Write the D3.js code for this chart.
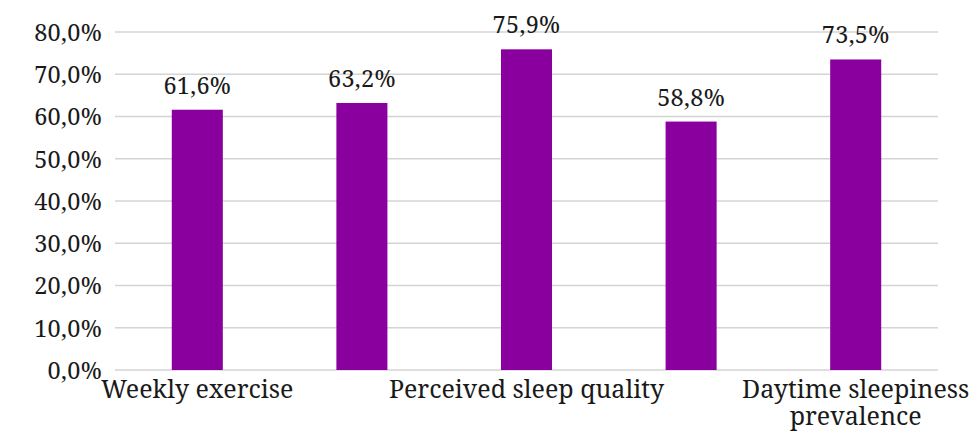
<!DOCTYPE html>
<html>
<head>
<meta charset="utf-8">
<script src="https://cdn.jsdelivr.net/npm/d3@7"></script>
<style>
  html, body { margin: 0; padding: 0; background: #fff; }
  svg { display: block; }
</style>
</head>
<body>
<script>
// chart data
const categories = ['Weekly exercise', '', 'Perceived sleep quality', '', 'Daytime sleepiness\nprevalence']
const values = [61.6, 63.2, 75.9, 58.8, 73.5]
const yTicks = [0, 10, 20, 30, 40, 50, 60, 70, 80]

const width = 976
const height = 435
const margin = { top: 32, right: 38, bottom: 65, left: 115 }
const fontFamily = "'Noto Serif', 'Liberation Serif', serif"
const textColor = '#1a1a1a'

const locale = d3.formatLocale({ decimal: ',', thousands: '.', grouping: [3], currency: ['', ''] })
const fmt = locale.format('.1f')
const pct = d => fmt(d) + '%'

const svg = d3.select('body').append('svg')
  .attr('width', width)
  .attr('height', height)

const x = d3.scaleBand()
  .domain(d3.range(values.length))
  .range([margin.left, width - margin.right])
  .paddingInner(0.69)
  .paddingOuter(0.345)

const y = d3.scaleLinear()
  .domain([0, 80])
  .range([height - margin.bottom, margin.top])

// gridlines
svg.append('g')
  .selectAll('line')
  .data(yTicks)
  .join('line')
  .attr('x1', margin.left)
  .attr('x2', width - margin.right)
  .attr('y1', d => y(d))
  .attr('y2', d => y(d))
  .attr('stroke', '#d4d4d4')
  .attr('stroke-width', 1.5)

// y axis labels
const yAxis = svg.append('g')
  .attr('transform', `translate(${margin.left},0)`)
  .call(d3.axisLeft(y).tickValues(yTicks).tickFormat(pct).tickSize(0).tickPadding(13))
yAxis.select('.domain').remove()
yAxis.selectAll('text')
  .attr('dy', '0.36em')
  .style('font-family', fontFamily)
  .style('font-size', '23.5px')
  .style('letter-spacing', '0.3px')
  .attr('fill', textColor)

// bars
svg.append('g')
  .selectAll('rect')
  .data(values)
  .join('rect')
  .attr('x', (d, i) => x(i))
  .attr('width', x.bandwidth())
  .attr('y', d => y(d))
  .attr('height', d => y(0) - y(d))
  .attr('fill', '#8a009e')

// value labels
svg.append('g')
  .selectAll('text')
  .data(values)
  .join('text')
  .attr('x', (d, i) => x(i) + x.bandwidth() / 2)
  .attr('y', d => y(d) - 16)
  .attr('text-anchor', 'middle')
  .attr('fill', textColor)
  .style('font-family', fontFamily)
  .style('font-size', '23.5px')
  .style('letter-spacing', '0.3px')
  .text(pct)

// category labels
const cat = svg.append('g')
  .selectAll('text')
  .data(categories)
  .join('text')
  .attr('x', (d, i) => x(i) + x.bandwidth() / 2)
  .attr('y', y(0) + 28)
  .attr('text-anchor', 'middle')
  .attr('fill', textColor)
  .style('font-family', fontFamily)
  .style('font-size', '25px')

cat.selectAll('tspan')
  .data(d => d.split('\n'))
  .join('tspan')
  .attr('x', function () { return d3.select(this.parentNode).attr('x') })
  .attr('dy', (d, i) => i === 0 ? 0 : 27)
  .text(d => d)
</script>
</body>
</html>
